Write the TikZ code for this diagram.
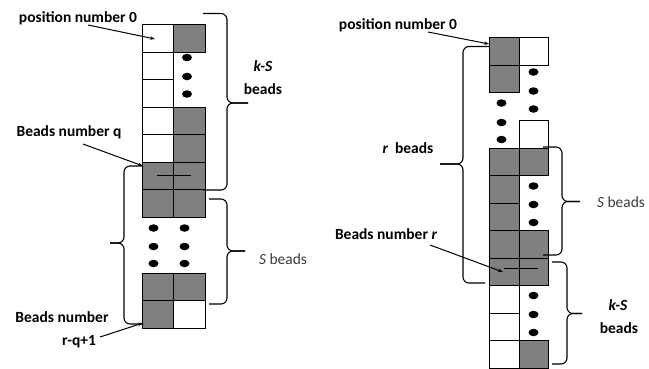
\documentclass[tikz,border=0pt]{standalone}
\usepackage{fontspec}
\setmainfont{Carlito}
\usetikzlibrary{arrows.meta,shapes.geometric}
\definecolor{beadgray}{HTML}{808080}
\definecolor{softtext}{HTML}{3A3A44}
\tikzset{
  wcell/.style={draw=black, fill=white, line width=1pt, minimum width=#1, minimum height=27.5pt, inner sep=0pt, anchor=north west},
  gcell/.style={draw=black, fill=beadgray, line width=1pt, minimum width=#1, minimum height=27.5pt, inner sep=0pt, anchor=north west},
  bead/.style={fill=black, draw=none, ellipse, minimum width=10pt, minimum height=7.5pt, inner sep=0pt},
  lbl/.style={font=\fontsize{15.5}{17}\selectfont\bfseries, inner sep=0pt},
  slbl/.style={font=\fontsize{15.5}{17}\selectfont, text=softtext, inner sep=0pt},
  pointer/.style={draw=black, line width=1pt, -{Stealth[length=5pt,width=3.5pt]}},
  bracepath/.style={draw=black, line width=1.1pt, rounded corners=6pt},
  barline/.style={draw=black, line width=1.8pt},
}
\begin{document}
\begin{tikzpicture}[x=1pt,y=-1pt]
\useasboundingbox (0,0) rectangle (649,368);
% ---------- left diagram ----------
\node[wcell=31pt] (a0) at (142,24) {};
\node[gcell=32pt] (b0) at (173,24) {};
\node[wcell=31pt] (a1) at (142,51.5) {};
\node[wcell=31pt] (a2) at (142,79) {};
\node[wcell=31pt] (a3) at (142,106.5) {};
\node[gcell=32pt] (b3) at (173,106.5) {};
\node[wcell=31pt] (a4) at (142,134) {};
\node[gcell=32pt] (b4) at (173,134) {};
\node[gcell=31pt] (a5) at (142,161.5) {};
\node[gcell=32pt] (b5) at (173,161.5) {};
\node[gcell=31pt] (a6) at (142,189) {};
\node[gcell=32pt] (b6) at (173,189) {};
\node[gcell=31pt] (a7) at (142,272.5) {};
\node[gcell=32pt] (b7) at (173,272.5) {};
\node[gcell=31pt] (a8) at (142,300) {};
\node[wcell=32pt] (b8) at (173,300) {};
\coordinate (barL1) at (156.5,175.5);
\coordinate (barL2) at (191,175.5);
\draw[barline] (barL1) -- (barL2);
% beads
\node[bead] (d1) at (187,57.5) {};
\node[bead] (d2) at (187,76.5) {};
\node[bead] (d3) at (187,94) {};
\node[bead] (d4) at (153.5,228) {};
\node[bead] (d5) at (153.5,246.5) {};
\node[bead] (d6) at (153.5,263.5) {};
\node[bead] (d7) at (184.5,228) {};
\node[bead] (d8) at (184.5,246.5) {};
\node[bead] (d9) at (184.5,263.5) {};
% braces
\draw[bracepath] (203,13.5) -- (227,13.5) -- (227,103) -- (248,103);
\draw[bracepath] (248,103) -- (227,103) -- (227,190) -- (203,190);
\draw[bracepath] (209,199) -- (227,199) -- (227,251) -- (245,251);
\draw[bracepath] (245,251) -- (227,251) -- (227,304) -- (209,304);
\draw[bracepath] (143,166) -- (124,166) -- (124,243) -- (110,243);
\draw[bracepath] (110,243) -- (124,243) -- (124,324) -- (143,324);
% labels
\node[lbl] (p0L) at (78,18) {position number 0};
\node[lbl] (ksL) at (263,66) {\itshape k-S};
\node[lbl] (bdL) at (263,89.5) {beads};
\node[lbl] (bqL) at (69,132) {Beads number q};
\node[slbl] (sbL) at (283,259) {\itshape S\upshape\ beads};
\node[lbl] (bnL) at (62,317) {Beads number};
\node[lbl] (rqL) at (79,342) {r-q+1};
\coordinate (t0L) at (155,39);
\coordinate (tqL) at (143,166);
\coordinate (trL) at (143,323);
\draw[pointer] (88,25) -- (t0L);
\draw[pointer] (83,144) -- (tqL);
\draw[pointer] (100,337) -- (trL);
% ---------- right diagram ----------
\node[gcell=30pt] (c0) at (489,37) {};
\node[wcell=29pt] (e0) at (519,37) {};
\node[gcell=30pt] (c1) at (489,64.5) {};
\node[wcell=29pt] (e2) at (519,120) {};
\node[gcell=30pt] (c3) at (489,147.5) {};
\node[gcell=29pt] (e3) at (519,147.5) {};
\node[gcell=30pt] (c4) at (489,175) {};
\node[gcell=30pt] (c5) at (489,202.5) {};
\node[gcell=30pt] (c6) at (489,230) {};
\node[gcell=29pt] (e6) at (519,230) {};
\node[gcell=30pt] (c7) at (489,257.5) {};
\node[gcell=29pt] (e7) at (519,257.5) {};
\node[wcell=30pt] (c8) at (489,285) {};
\node[wcell=30pt] (c9) at (489,312.5) {};
\node[wcell=30pt] (c10) at (489,340) {};
\node[gcell=29pt] (e10) at (519,340) {};
\coordinate (barR1) at (504,268.5);
\coordinate (barR2) at (538,268.5);
\draw[barline] (barR1) -- (barR2);
% beads
\node[bead] (f1) at (533.5,72) {};
\node[bead] (f2) at (533.5,91) {};
\node[bead] (f3) at (533.5,109) {};
\node[bead] (f4) at (501.5,103) {};
\node[bead] (f5) at (501.5,122.5) {};
\node[bead] (f6) at (501.5,139.5) {};
\node[bead] (f7) at (533.5,186) {};
\node[bead] (f8) at (533.5,204.5) {};
\node[bead] (f9) at (533.5,222.5) {};
\node[bead] (f10) at (533.5,295.5) {};
\node[bead] (f11) at (533.5,314.5) {};
\node[bead] (f12) at (533.5,332.5) {};
% braces
\draw[bracepath] (489,46.5) -- (463,46.5) -- (463,164) -- (440,164);
\draw[bracepath] (440,164) -- (463,164) -- (463,283) -- (485,283);
\draw[bracepath] (543,147) -- (562,147) -- (562,201.5) -- (580,201.5);
\draw[bracepath] (580,201.5) -- (562,201.5) -- (562,255) -- (543,255);
\draw[bracepath] (552,262) -- (567,262) -- (567,313.5) -- (582,313.5);
\draw[bracepath] (582,313.5) -- (567,313.5) -- (567,364) -- (552,364);
% labels
\node[lbl] (p0R) at (398,25) {position number 0};
\node[lbl] (rbR) at (408,148) {\itshape r\upshape\ \ beads};
\node[slbl] (sbR) at (621,202) {\itshape S\upshape\ beads};
\node[lbl] (bnR) at (386,234) {Beads number \itshape r};
\node[lbl] (ksR) at (618,305) {\itshape k-S};
\node[lbl] (bdR) at (619,328) {beads};
\coordinate (t0R) at (489,44);
\coordinate (trR) at (503,272);
\draw[pointer] (428,32) -- (t0R);
\draw[pointer] (430,245) -- (trR);
\end{tikzpicture}
\end{document}
